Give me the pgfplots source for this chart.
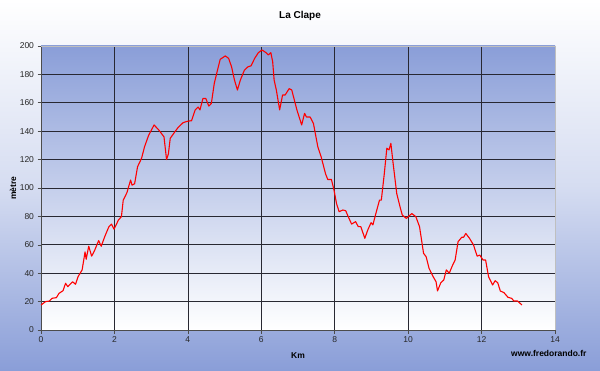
\documentclass[border=0pt]{standalone}
\usepackage{pgfplots}
\pgfplotsset{compat=1.18}
\usepackage{fontspec}
\setmainfont{Liberation Sans}
\definecolor{bgblue}{RGB}{138,158,216}
\definecolor{gridc}{RGB}{40,40,50}
\begin{document}
\begin{tikzpicture}[x=1pt,y=1pt]
\shade[top color=white, bottom color=bgblue, middle color=bgblue!35!white] (-41,-40) rectangle (559,330);
\useasboundingbox (-41,-40) rectangle (559,330);
\begin{axis}[
  at={(0,0)}, anchor=south west,
  scale only axis, width=514pt, height=284pt,
  xmin=0, xmax=14, ymin=0, ymax=200,
  xtick={0,2,...,14}, ytick={0,20,...,200},
  axis lines*=left,
  axis line style={black!70, line width=0.6pt},
  tick align=outside, tick pos=left,
  major tick length=3.5pt,
  tick style={black!70, line width=0.6pt},
  grid=major,
  major grid style={gridc, line width=0.7pt},
  axis background/.style={shade, top color=bgblue, bottom color=white},
  ticklabel style={font=\fontsize{8.5}{10}\selectfont, text=black!85},
  /pgf/number format/assume math mode=true,
  clip=false,
]
\draw[black!25, line width=0.8pt] (rel axis cs:0,1) -- (rel axis cs:1,1) -- (rel axis cs:1,0);
\addplot[red, line width=1.1pt, line join=round] coordinates {
(0,17.6) (0.125,20) (0.23,20.4) (0.3,22.3) (0.42,22.8) (0.49,25.8) (0.6,27.7)
(0.67,32.9) (0.73,30.5) (0.86,34) (0.94,32.2) (1.01,37.6) (1.12,42.3) (1.2,55)
(1.23,49.8) (1.3,59) (1.38,52) (1.46,56) (1.57,63) (1.64,59) (1.74,66) (1.85,72.8)
(1.92,74.6) (1.99,71) (2.11,77.5) (2.19,79.8) (2.24,91.5) (2.34,96.7) (2.44,105.6)
(2.48,102) (2.55,103) (2.63,115) (2.74,121) (2.82,129) (2.93,137) (3.08,144.4)
(3.21,140.8) (3.35,136) (3.42,120) (3.47,124) (3.52,135) (3.63,139) (3.73,142.5)
(3.87,146) (3.99,147) (4.1,147.4) (4.2,155) (4.28,157) (4.33,155) (4.41,163)
(4.49,163) (4.57,157.7) (4.64,159.6) (4.72,173.7) (4.83,185.4) (4.88,190.6)
(5.02,193) (5.11,191.3) (5.19,185.4) (5.27,176) (5.35,169) (5.43,176) (5.54,183)
(5.64,185.4) (5.72,186) (5.82,191.3) (5.92,195.3) (6.02,197.2) (6.13,195.3)
(6.19,193.7) (6.26,195.3) (6.31,189) (6.35,176) (6.41,169) (6.5,155) (6.58,165.5)
(6.65,165.5) (6.76,170) (6.83,169) (6.9,162) (6.97,155) (7.1,144.4) (7.18,152.6)
(7.23,150) (7.33,150) (7.42,145.5) (7.54,129) (7.63,122) (7.75,110) (7.81,106)
(7.91,106) (7.98,98.6) (8.05,89) (8.12,83.3) (8.22,84.5) (8.3,84) (8.36,80.3)
(8.46,74.6) (8.57,76.3) (8.64,72.8) (8.71,72.8) (8.82,64.6) (8.9,70.4) (8.99,75.6)
(9.04,74) (9.11,81) (9.22,91.5) (9.27,91.5) (9.35,110) (9.42,128) (9.48,126.8)
(9.53,131.5) (9.58,119.7) (9.69,96) (9.79,85.7) (9.84,81) (9.95,78.6) (10.1,82)
(10.21,79.8) (10.31,72.8) (10.42,54) (10.49,51.6) (10.57,43.4) (10.68,37.6)
(10.76,34) (10.8,27.5) (10.89,33.3) (10.97,35.2) (11.04,42.3) (11.12,40) (11.2,45)
(11.28,49.3) (11.36,62.2) (11.46,65.3) (11.51,65.3) (11.57,68) (11.67,64.6)
(11.78,59.9) (11.88,52) (11.95,52.8) (12.04,49.3) (12.11,49.3) (12.19,37.6)
(12.3,31.7) (12.37,34.7) (12.44,33.3) (12.51,27.5) (12.61,26.3) (12.72,23)
(12.82,22.3) (12.88,20.4) (12.98,20.4) (13.1,17.6)
};
\end{axis}
\node[font=\bfseries\fontsize{10}{12}\selectfont] at (259,314) {La Clape};
\node[font=\bfseries\fontsize{8.5}{10}\selectfont] at (257,-26) {Km};
\node[font=\bfseries\fontsize{8.5}{10}\selectfont, rotate=90] at (-28,142) {mètre};
\node[font=\bfseries\fontsize{8.5}{10}\selectfont, anchor=east] at (549,-23) {www.fredorando.fr};
\end{tikzpicture}
\end{document}
